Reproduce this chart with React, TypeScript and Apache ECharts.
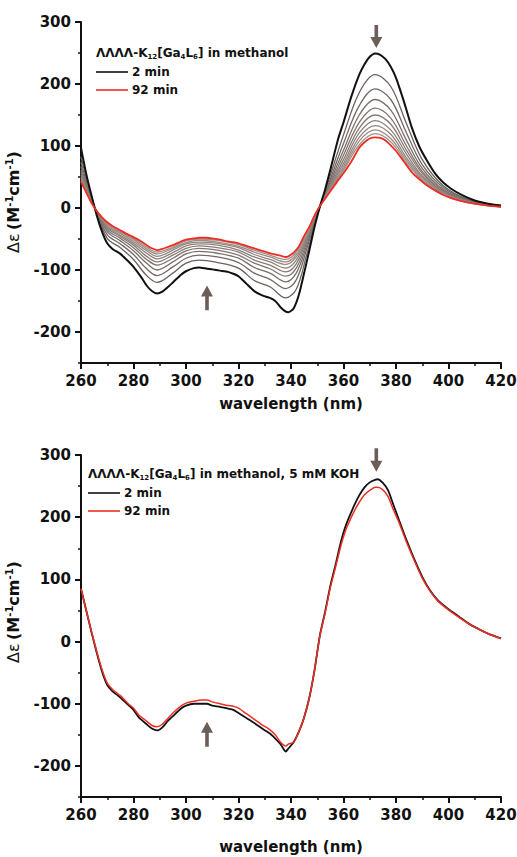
import React, { useEffect, useRef } from 'react';
import * as echarts from 'echarts';

// ---------- Top panel (in methanol) ----------
const waveTop = [260,262,264,266,268,270,272,275,278,280,283,285,287,289,291,293,295,298,300,303,305,308,310,313,316,318,320,323,326,329,332,334,336,338,339,341,343,345,347,349,351,353,355,358,360,363,366,368,370,372,374,376,378,380,383,386,389,392,395,398,401,405,410,415,420];
const top2min = [97,55,20,-12,-38,-57,-66,-74,-86,-95,-112,-125,-134,-138,-135,-128,-120,-108,-102,-97,-96,-98,-99,-101,-103,-106,-110,-122,-134,-141,-145,-150,-160,-167,-168,-162,-140,-105,-68,-30,2,30,62,112,138,180,215,232,244,249,247,240,228,210,172,130,98,75,55,41,31,21,12,7,4];
const top92min = [42,25,8,-5,-15,-23,-29,-36,-43,-47,-54,-60,-65,-68,-66,-63,-60,-54,-51,-49,-48,-48,-49,-51,-54,-55,-57,-61,-65,-69,-73,-75,-77,-79,-78,-72,-62,-45,-30,-12,3,15,27,45,56,75,97,106,112,114,113,109,101,92,75,58,46,36,28,21,16,11,7,4,2];

// intermediate spectra (grey), read on a coarser wavelength grid
const waveMid = [260,265,270,275,280,285,289,295,300,305,312,320,326,332,338,342,346,350,355,360,366,372,378,384,390,398,408,420];
const mid1 = [83,4,-49,-64,-83,-109,-120,-105,-89,-84,-88,-97,-117,-127,-145,-131,-75,-12,53,118,186,215,196,136,78,36,13,4];
const mid2 = [74,3,-43,-58,-75,-98,-109,-95,-81,-76,-79,-88,-105,-115,-130,-116,-66,-10,47,104,165,192,175,121,70,33,12,3];
const mid3 = [67,3,-38,-53,-69,-89,-100,-87,-74,-70,-73,-81,-96,-105,-119,-105,-60,-8,43,93,150,175,158,109,64,30,11,3];
const mid4 = [61,3,-35,-49,-64,-83,-92,-81,-69,-65,-68,-76,-89,-98,-110,-97,-55,-8,39,85,138,161,145,100,59,28,10,3];
const mid5 = [57,3,-32,-46,-60,-78,-87,-76,-65,-61,-64,-71,-84,-92,-103,-90,-51,-7,36,78,129,150,135,93,56,26,10,3];
const mid6 = [53,2,-30,-44,-57,-73,-82,-72,-61,-58,-60,-68,-79,-87,-97,-84,-48,-6,34,72,121,141,126,87,52,25,9,2];
const mid7 = [50,2,-28,-41,-54,-69,-78,-68,-58,-55,-57,-64,-75,-83,-91,-79,-45,-5,32,67,114,133,119,81,50,24,9,2];
const mid8 = [47,2,-26,-39,-51,-66,-74,-65,-56,-52,-55,-62,-71,-79,-87,-75,-42,-5,30,63,108,126,112,77,47,23,9,2];
const mid9 = [44,2,-25,-38,-49,-63,-71,-63,-53,-50,-52,-59,-68,-76,-83,-71,-40,-4,29,60,102,120,107,73,45,22,8,2];
const midSeries = [mid1, mid2, mid3, mid4, mid5, mid6, mid7, mid8, mid9];

// ---------- Bottom panel (methanol, 5 mM KOH) ----------
const waveBot = [260,262,264,266,268,270,272,275,278,280,282,285,287,289,291,293,295,298,300,303,306,308,310,313,316,318,320,323,326,329,332,334,336,338,339,341,343,345,347,349,351,353,355,357,359,361,364,366,368,370,372,373,375,377,379,381,384,387,390,393,396,400,404,408,412,416,420];
const bot2min = [85,50,15,-18,-48,-70,-80,-90,-102,-110,-122,-133,-140,-143,-138,-128,-120,-108,-103,-100,-100,-100,-103,-105,-108,-110,-115,-123,-131,-140,-148,-156,-165,-177,-172,-162,-145,-122,-90,-45,10,48,90,124,160,188,218,235,248,256,260,261,255,243,220,197,163,132,104,82,66,52,40,28,19,11,5];
const bot92min = [85,50,16,-16,-45,-67,-77,-87,-100,-107,-118,-128,-135,-137,-133,-124,-115,-104,-99,-96,-94,-94,-97,-100,-103,-104,-107,-116,-125,-134,-142,-150,-162,-168,-165,-162,-145,-122,-90,-45,9,46,87,120,154,181,209,224,236,243,248,248,244,233,212,193,160,130,102,81,65,51,39,28,19,11,5];

// arrows: [wavelength, tail value, tip value]
const arrowsTop = [[372.5, 295, 258], [308, -165, -125]];
const arrowsBot = [[372.5, 311, 273], [308, -169, -129]];

const yMajor = [-200, -100, 0, 100, 200, 300];
const yMinor = [-250, -150, -50, 50, 150, 250];

const FONT = "'DejaVu Sans', sans-serif";
const INK = '#111111';
const RED = '#ee2e24';
const ARROW = '#6b5d57';
const greys = ['#6c615d', '#736864', '#7a6e69', '#81746f', '#887a75', '#8e807a', '#948680', '#9a8c86', '#a0928c'];

const pairs = (xs: number[], ys: number[]) => xs.map((x, i) => [x, ys[i]]);

function xAxisCfg(gridIndex: number, nameGap: number) {
  return {
    type: 'value', gridIndex, min: 260, max: 420, interval: 20,
    axisLine: { onZero: false, lineStyle: { color: INK, width: 2 } },
    axisTick: { length: 6, lineStyle: { color: INK, width: 2 } },
    minorTick: { show: true, splitNumber: 2, length: 3, lineStyle: { color: INK, width: 1.5 } },
    splitLine: { show: false },
    minorSplitLine: { show: false },
    axisLabel: { fontFamily: FONT, fontWeight: 'bold', fontSize: 15, color: INK, margin: 10 },
    name: 'wavelength (nm)', nameLocation: 'middle', nameGap,
    nameTextStyle: { fontFamily: FONT, fontWeight: 'bold', fontSize: 15, color: INK },
  };
}
function yAxisMain(gridIndex: number) {
  return {
    type: 'value', gridIndex, min: -250, max: 300, interval: 50, position: 'left',
    axisLine: { show: true, onZero: false, lineStyle: { color: INK, width: 2 } },
    axisTick: { show: true, length: 6, customValues: yMajor, lineStyle: { color: INK, width: 2 } },
    axisLabel: { customValues: yMajor, fontFamily: FONT, fontWeight: 'bold', fontSize: 15, color: INK, margin: 10 },
    splitLine: { show: false },
  };
}
function yAxisMinor(gridIndex: number) {
  return {
    type: 'value', gridIndex, min: -250, max: 300, interval: 50, position: 'left',
    axisLine: { show: false, onZero: false },
    axisTick: { show: true, length: 3, customValues: yMinor, lineStyle: { color: INK, width: 1.5 } },
    axisLabel: { show: false },
    splitLine: { show: false },
  };
}

function lineSeries(name: string, data: number[][], xi: number, yi: number, color: string, width: number, z: number, smooth: number | boolean) {
  return {
    type: 'line', name, data, xAxisIndex: xi, yAxisIndex: yi,
    showSymbol: false, symbol: 'none', smooth, z, silent: true,
    lineStyle: { color, width },
  };
}

function arrowSeries(data: number[][], xi: number, yi: number) {
  return {
    type: 'custom', xAxisIndex: xi, yAxisIndex: yi, clip: false, silent: true, z: 10,
    data,
    renderItem: (_p: any, api: any) => {
      const x = api.value(0);
      const p0 = api.coord([x, api.value(1)]);
      const p1 = api.coord([x, api.value(2)]);
      const dir = p1[1] > p0[1] ? 1 : -1;
      const hl = 11, hw = 6, sw = 1.8;
      const cx = p0[0];
      const base = p1[1] - dir * hl;
      return {
        type: 'polygon',
        shape: { points: [[cx - sw, p0[1]], [cx + sw, p0[1]], [cx + sw, base], [cx + hw, base], [cx, p1[1]], [cx - hw, base], [cx - sw, base]] },
        style: { fill: ARROW },
      };
    },
  };
}

const legendRich = {
  b: { fontFamily: FONT, fontWeight: 'bold', fontSize: 12, lineHeight: 15, fill: INK },
  s: { fontFamily: FONT, fontWeight: 'bold', fontSize: 7, lineHeight: 7, verticalAlign: 'bottom', fill: INK },
};
const yTitleRich = {
  g: { fontFamily: FONT, fontWeight: 'normal', fontSize: 16, lineHeight: 18, fill: INK },
  t: { fontFamily: FONT, fontWeight: 'bold', fontSize: 16, lineHeight: 18, fill: INK },
  p: { fontFamily: FONT, fontWeight: 'bold', fontSize: 10, lineHeight: 10, verticalAlign: 'top', fill: INK },
};

function legendGraphics(x: number, yTitle: number, title: string) {
  const line1 = yTitle + 19, line2 = yTitle + 37;
  return [
    { type: 'text', x, y: yTitle, style: { text: title, rich: legendRich, verticalAlign: 'middle', align: 'left' } },
    { type: 'line', shape: { x1: x, y1: line1, x2: x + 32, y2: line1 }, style: { stroke: INK, lineWidth: 1.6 } },
    { type: 'text', x: x + 36, y: line1, style: { text: '2 min', fontFamily: FONT, fontWeight: 'bold', fontSize: 12, fill: INK, verticalAlign: 'middle' } },
    { type: 'line', shape: { x1: x, y1: line2, x2: x + 32, y2: line2 }, style: { stroke: RED, lineWidth: 1.6 } },
    { type: 'text', x: x + 36, y: line2, style: { text: '92 min', fontFamily: FONT, fontWeight: 'bold', fontSize: 12, fill: INK, verticalAlign: 'middle' } },
  ];
}

const yTitleText = '{g|Δε} {t|(M}{p|-1}{t|cm}{p|-1}{t|)}';

export default function App() {
  const ref = useRef<HTMLDivElement>(null);
  useEffect(() => {
    const chart = echarts.init(ref.current!, null, { renderer: 'svg' });
    const series: any[] = [];
    midSeries.forEach((m, i) => series.push(lineSeries('t' + i, pairs(waveMid, m), 0, 0, greys[i], 1.3, 2, 0.35)));
    series.push(lineSeries('top 2 min', pairs(waveTop, top2min), 0, 0, INK, 2, 4, 0.2));
    series.push(lineSeries('top 92 min', pairs(waveTop, top92min), 0, 0, RED, 1.8, 5, 0.2));
    series.push(arrowSeries(arrowsTop, 0, 0));
    series.push(lineSeries('bot 2 min', pairs(waveBot, bot2min), 1, 2, INK, 1.8, 4, 0.2));
    series.push(lineSeries('bot 92 min', pairs(waveBot, bot92min), 1, 2, RED, 1.5, 5, 0.2));
    series.push(arrowSeries(arrowsBot, 1, 2));

    chart.setOption({
      animation: false,
      backgroundColor: '#ffffff',
      grid: [
        { left: 81, top: 22, width: 420, height: 341, outerBoundsMode: 'none', containLabel: false },
        { left: 81, top: 455, width: 420, height: 342, outerBoundsMode: 'none', containLabel: false },
      ],
      xAxis: [xAxisCfg(0, 33), xAxisCfg(1, 42)],
      yAxis: [yAxisMain(0), yAxisMinor(0), yAxisMain(1), yAxisMinor(1)],
      series,
      graphic: [
        ...legendGraphics(96, 53, '{b|ΛΛΛΛ-K}{s|12}{b|[Ga}{s|4}{b|L}{s|6}{b|] in methanol}'),
        ...legendGraphics(88, 474, '{b|ΛΛΛΛ-K}{s|12}{b|[Ga}{s|4}{b|L}{s|6}{b|] in methanol, 5 mM KOH}'),
        { type: 'text', x: 13, y: 202, rotation: Math.PI / 2, style: { text: yTitleText, rich: yTitleRich, align: 'center', verticalAlign: 'middle' } },
        { type: 'text', x: 13, y: 612, rotation: Math.PI / 2, style: { text: yTitleText, rich: yTitleRich, align: 'center', verticalAlign: 'middle' } },
      ],
    });
    return () => chart.dispose();
  }, []);
  return <div ref={ref} style={{ position: 'fixed', left: 0, top: 0, width: 517, height: 857, background: '#fff' }} />;
}
